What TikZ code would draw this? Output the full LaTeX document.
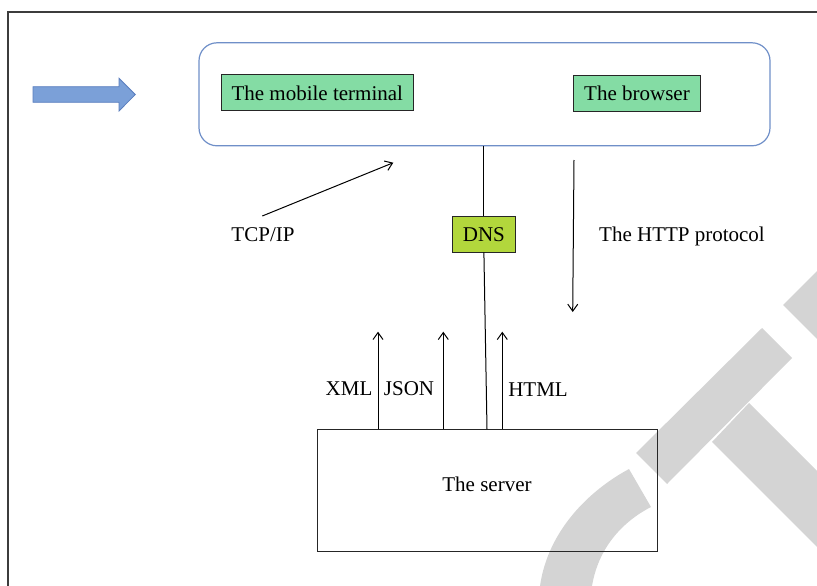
\documentclass[tikz,border=0pt]{standalone}
\usepackage{fontspec}
\setmainfont{Liberation Serif}
\usetikzlibrary{arrows.meta}
\definecolor{panelc}{HTML}{6F8FC8}
\definecolor{arrowfill}{HTML}{7BA0D8}
\definecolor{arrowline}{HTML}{5A7EBE}
\definecolor{termc}{HTML}{84DCA4}
\definecolor{dnsc}{HTML}{B2D73C}
\definecolor{markc}{HTML}{D4D4D4}
\definecolor{framec}{HTML}{3C3C3C}

\begin{document}
\begin{tikzpicture}[x=1pt,y=-1pt,
  lbl/.style={font=\fontsize{21}{25}\selectfont,anchor=base,inner sep=0pt},
  tag/.style={draw=black!85,line width=0.9pt,font=\fontsize{21}{25}\selectfont,
    text height=15pt,text depth=0pt,inner xsep=10.5pt,inner ysep=10.5pt},
  flow/.style={line width=1pt,-{Straight Barb[length=7pt,width=10pt]}},
  link/.style={line width=1pt}]
  \useasboundingbox (0,0) rectangle (817,586);
  \fill[markc] (636,453) -- (762,328) -- (792,358) -- (667,484) -- cycle;
  \fill[markc] (749,403) -- (817,471) -- (817,547) -- (712,442) -- cycle;
  \fill[markc] (783,305) -- (817,271) -- (817,339) -- cycle;
  \fill[markc] (629,469) .. controls (590,490) and (548,530) .. (540,586)
    -- (592,586) .. controls (598,550) and (620,523) .. (651,507) -- cycle;
  \draw[framec,line width=1.5pt] (8,586) -- (8,12) -- (817,12);
  \node[draw=panelc,line width=1.2pt,rounded corners=18pt,minimum width=571pt,
    minimum height=103pt] (panel) at (484.5,94.3) {};
  \filldraw[fill=arrowfill,draw=arrowline,line width=0.8pt] (33,86.7) -- (119,86.7)
    -- (119,78.3) -- (135.3,94.5) -- (119,111) -- (119,102.3) -- (33,102.3) -- cycle;
  \node[tag,fill=termc] (mobile) at (317.3,92.8) {The mobile terminal};
  \node[tag,fill=termc] (browser) at (637,93) {The browser};
  \node[tag,fill=dnsc] (dns) at (483.9,234) {DNS};
  \node[draw=black!85,line width=0.9pt,minimum width=340pt,minimum height=122pt,
    font=\fontsize{21}{25}\selectfont,text height=15pt,text depth=14pt] (server) at (487,490.5) {The server};
  \node[lbl] (tcp) at (263,241.7) {TCP/IP};
  \node[lbl] (http) at (682,241) {The HTTP protocol};
  \node[lbl] (xml) at (349,395) {XML};
  \node[lbl] (json) at (409,395) {JSON};
  \node[lbl] (html) at (538,396) {HTML};
  \coordinate (tcpfrom) at (262.3,216);
  \coordinate (tcpto) at (393.3,162.7);
  \coordinate (httpfrom) at (574,160);
  \coordinate (httpto) at (572.7,312);
  \draw[link] (dns.north) -- (dns.north |- panel.south);
  \draw[link] (dns.south) -- (server.north);
  \draw[flow] (tcpfrom) -- (tcpto);
  \draw[flow] (httpfrom) -- (httpto);
  \foreach \nm/\xx in {xmltip/378,jsontip/443.3,htmltip/502.3}{
    \coordinate (\nm) at (\xx,331.7);
    \draw[flow] (server.north -| \nm) -- (\nm);}
\end{tikzpicture}
\end{document}
